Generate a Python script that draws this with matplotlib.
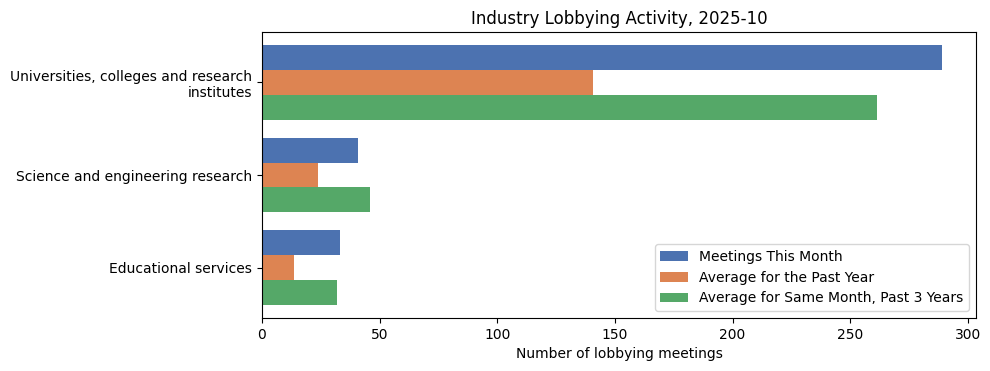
import numpy as np
import matplotlib.pyplot as plt

categories = ["Universities, colleges and research\ninstitutes",
              "Science and engineering research",
              "Educational services"]
this_month = [289, 41, 33]
past_year_avg = [140.8, 24, 13.7]
same_month_3yr = [261.3, 46, 32]

series = [
    ("Meetings This Month", this_month, "#4C72B0"),
    ("Average for the Past Year", past_year_avg, "#DD8452"),
    ("Average for Same Month, Past 3 Years", same_month_3yr, "#55A868"),
]

fig, ax = plt.subplots(figsize=(9.9, 3.71), dpi=100)
y = np.arange(len(categories))
h = 0.27
for i, (label, vals, color) in enumerate(series):
    ax.barh(y + (i - 1) * h, vals, height=h, color=color, label=label)

ax.set_yticks(y)
ax.set_yticklabels(categories, ha="right")
ax.invert_yaxis()
ax.set_xlabel("Number of lobbying meetings")
ax.set_title("Industry Lobbying Activity, 2025-10")
ax.legend(loc="lower right")
fig.subplots_adjust(left=0.2646, right=0.9859, top=0.9137, bottom=0.1429)
fig.savefig("out.png")
